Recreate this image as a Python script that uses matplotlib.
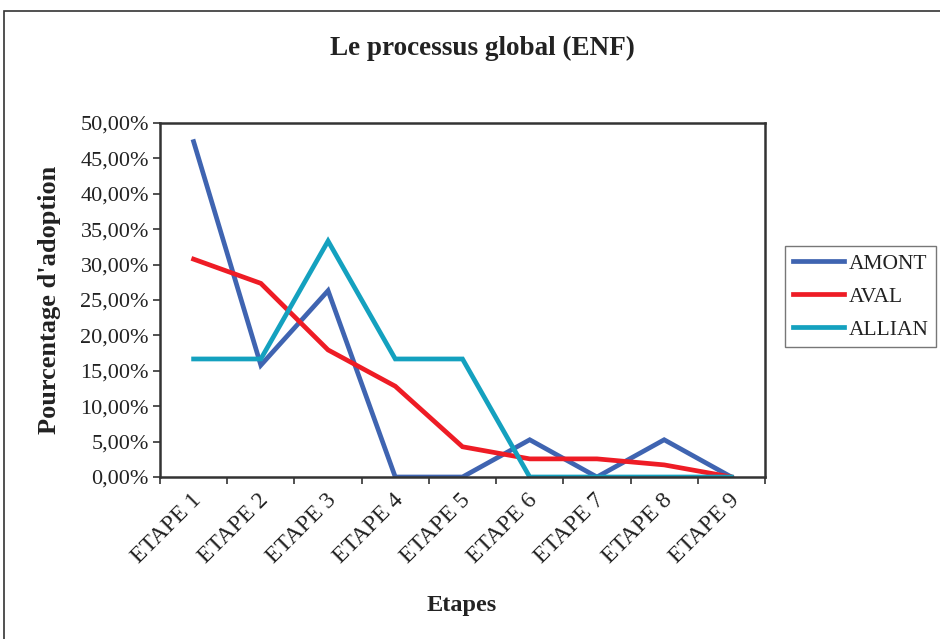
import matplotlib.pyplot as plt
from matplotlib.patches import Rectangle
from matplotlib.ticker import FuncFormatter

etapes = ["ETAPE 1", "ETAPE 2", "ETAPE 3", "ETAPE 4", "ETAPE 5",
          "ETAPE 6", "ETAPE 7", "ETAPE 8", "ETAPE 9"]
amont = [47.37, 15.79, 26.32, 0, 0, 5.26, 0, 5.26, 0]
aval = [30.77, 27.35, 17.95, 12.82, 4.27, 2.56, 2.56, 1.71, 0]
allian = [16.67, 16.67, 33.33, 16.67, 16.67, 0, 0, 0, 0]

plt.rcParams['font.family'] = ['Liberation Serif', 'DejaVu Serif']

fig = plt.figure(figsize=(9.4, 6.39), dpi=100)
fig.patches.append(Rectangle((4/940, -0.1), 1.1, 1 - 11/639 + 0.1, transform=fig.transFigure,
                             fill=False, edgecolor="#333333", linewidth=1.2))
ax = fig.add_axes([160/940, 1 - 477/639, 605/940, 354/639])

x = range(len(etapes))
ax.plot(x, amont, color="#3F64B1", lw=3.4, label="AMONT", solid_joinstyle="miter")
ax.plot(x, aval, color="#EE1C25", lw=3.4, label="AVAL", solid_joinstyle="miter")
ax.plot(x, allian, color="#14A1BF", lw=3.4, label="ALLIAN", solid_joinstyle="miter")

ax.set_xlim(-0.5, len(etapes) - 0.5)
ax.set_ylim(0, 50)
ax.set_yticks(range(0, 51, 5))
ax.yaxis.set_major_formatter(FuncFormatter(lambda v, p: f"{v:.2f}".replace(".", ",") + "%"))
ax.set_xticks([i - 0.5 for i in range(len(etapes) + 1)])
ax.set_xticklabels([])
for i, lab in enumerate(etapes):
    ax.annotate(lab, (i, 0), xycoords=("data", "axes fraction"), xytext=(-2, -9),
                textcoords="offset points", rotation=45, rotation_mode="anchor",
                ha="right", va="top", fontsize=17, color="#222222")

for s in ax.spines.values():
    s.set_color("#333333")
    s.set_linewidth(1.8)
ax.tick_params(axis="both", direction="out", length=5, width=1.2, color="#333333",
               labelsize=16, labelcolor="#222222")
ax.tick_params(axis="y", pad=3)

fig.text(50/940, 1 - 300/639, "Pourcentage d'adoption", rotation=90, ha="center", va="center",
         fontsize=19, fontweight="bold", color="#222222")
fig.text(462/940, 1 - 605/639, "Etapes", ha="center", va="center", fontsize=17.5,
         fontweight="bold", color="#222222")
fig.text(482/940, 1 - 48/639, "Le processus global (ENF)", ha="center", va="center",
         fontsize=19.5, fontweight="bold", color="#222222")

leg = fig.legend(loc="upper left", bbox_to_anchor=(785/940, 1 - 246/639), fontsize=15.5,
                 frameon=True, fancybox=False, edgecolor="#555555", handlelength=2.4,
                 handletextpad=0.2, borderpad=0.35, labelspacing=0.6, borderaxespad=0)
leg.get_frame().set_linewidth(1.0)
for t in leg.get_texts():
    t.set_color("#222222")

plt.savefig("out.png", dpi=100)
